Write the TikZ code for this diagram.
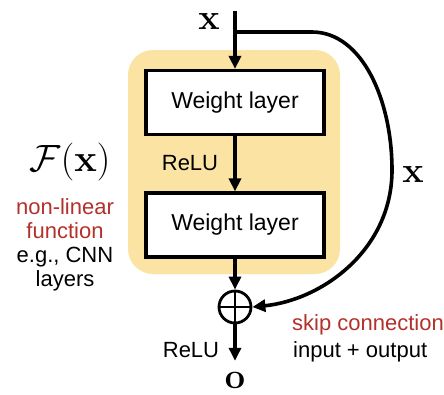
\RequirePackage{fix-cm}
\documentclass[tikz,border=0pt]{standalone}
\usepackage[no-math]{fontspec}
\setmainfont{Liberation Sans}
\usepackage{tikz}
\usetikzlibrary{arrows.meta,positioning,calc}
\definecolor{resYellow}{HTML}{FBE3A3}
\definecolor{resRed}{HTML}{B3302B}

\begin{document}
\begin{tikzpicture}[x=1pt, y=-1pt,
  panel/.style={fill=resYellow, rounded corners=25pt, minimum width=212pt, minimum height=224pt},
  layer/.style={draw=black, line width=3.2pt, fill=white, minimum width=178pt, minimum height=64pt, font=\fontsize{23}{27}\selectfont},
  addop/.style={circle, draw=black, line width=2.8pt, minimum size=32pt, inner sep=0pt},
  lbl/.style={font=\fontsize{22}{24}\selectfont, align=center, inner sep=0pt},
  sym/.style={font=\fontsize{36}{40}\selectfont, inner sep=0pt},
  arr/.style={-{Triangle[length=13pt,width=12pt]}, line width=3.6pt}
]
  \useasboundingbox (0,0) rectangle (444,394);

  \node[panel] (blk) at (234,162) {};
  \node[layer] (wl1) at (235,102.5) {Weight layer};
  \node[layer] (wl2) at (235,225) {Weight layer};
  \node[addop] (add) at (235,307) {};
  \draw[line width=2.8pt] (add.north) -- (add.south) (add.west) -- (add.east);

  \coordinate (xtop) at (235,11);
  \coordinate (split) at (235,32);
  \node[sym] (xin) at (209,21) {$\mathbf{x}$};
  \node[sym] (xskip) at (413,174) {$\mathbf{x}$};
  \node[sym] (out) at (235,380) {$\mathbf{o}$};

  \node[lbl] (relu1) at (190,163) {ReLU};
  \node[lbl] (relu2) at (191,350) {ReLU};
  \node[sym, font=\fontsize{38}{42}\selectfont] (fx) at (70,162) {$\mathcal{F}(\mathbf{x})$};
  \node[lbl] (fdesc) at (65,245) {\textcolor{resRed}{non-linear}\\\textcolor{resRed}{function}\\e.g., CNN\\layers};
  \node[lbl, anchor=west] (skip) at (292,325) {\textcolor{resRed}{skip connection}};
  \node[lbl, anchor=west] (io) at (293,352) {input + output};

  \draw[arr] (xtop) -- (wl1);
  \draw[arr] (wl1) -- (wl2);
  \draw[arr] (wl2) -- (add);
  \draw[arr, shorten >=11pt] (add) -- (out);
  \draw[arr] (split) -- (312,32) .. controls (362,32) and (392,100) .. (392,170)
    .. controls (392,250) and (322,300) .. (add.east);
\end{tikzpicture}
\end{document}
